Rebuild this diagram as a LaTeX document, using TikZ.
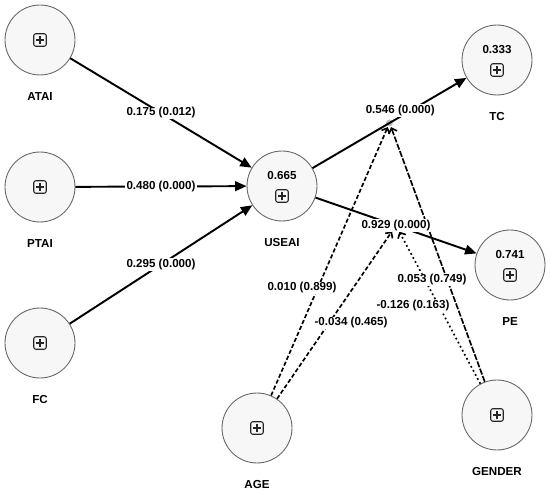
\documentclass[tikz,border=0pt]{standalone}
\usepackage{fontspec}
\setmainfont{Liberation Sans}
\usetikzlibrary{positioning,arrows.meta,calc}

\tikzset{
  latent/.style={circle,draw=black!60,fill=black!3,line width=0.5pt,
                 minimum size=1.4cm,inner sep=0pt},
  plusbox/.style={draw=black!85,rounded corners=1.2pt,minimum size=0.25cm,
                  inner sep=0pt,line width=0.6pt,
    path picture={\draw[line width=0.6pt]
      ([xshift=-0.08cm]path picture bounding box.center) --
      ([xshift=0.08cm]path picture bounding box.center)
      ([yshift=-0.08cm]path picture bounding box.center) --
      ([yshift=0.08cm]path picture bounding box.center);}},
  rsq/.style={font=\bfseries\fontsize{6.6}{7.5}\selectfont,inner sep=0pt},
  namelbl/.style={font=\bfseries\fontsize{6.6}{7.5}\selectfont,inner sep=0pt},
  elabel/.style={fill=white,inner sep=0.6pt,
                 font=\bfseries\fontsize{6.6}{7.5}\selectfont},
  relpath/.style={line width=1.1pt,-{Triangle[length=6.5pt,width=5.5pt]}},
  modpath/.style={line width=0.95pt,-{Straight Barb[length=2.5pt,width=5pt]}},
}

\begin{document}
\begin{tikzpicture}[x=0.02cm,y=-0.02cm]
  \useasboundingbox (0,0) rectangle (550,492);

  % constructs
  \node[latent] (atai) at (40,40) {};
  \node[latent] (ptai) at (40,187) {};
  \node[latent] (fc) at (40,343) {};
  \node[latent] (useai) at (282,186) {};
  \node[latent] (tc) at (497,60) {};
  \node[latent] (pe) at (510,265) {};
  \node[latent] (age) at (257,428) {};
  \node[latent] (gender) at (497,415) {};

  % names
  \node[namelbl,below=0.34cm of atai] (atai-n) {ATAI};
  \node[namelbl,below=0.34cm of ptai] (ptai-n) {PTAI};
  \node[namelbl,below=0.34cm of fc] (fc-n) {FC};
  \node[namelbl,below=0.34cm of useai] (useai-n) {USEAI};
  \node[namelbl,below=0.34cm of tc] (tc-n) {TC};
  \node[namelbl,below=0.34cm of pe] (pe-n) {PE};
  \node[namelbl,below=0.34cm of age] (age-n) {AGE};
  \node[namelbl,below=0.34cm of gender] (gender-n) {GENDER};

  % indicator boxes and R-square values
  \node[plusbox] (atai-b) at (atai) {};
  \node[plusbox] (ptai-b) at (ptai) {};
  \node[plusbox] (fc-b) at (fc) {};
  \node[plusbox] (age-b) at (age) {};
  \node[plusbox] (gender-b) at (gender) {};
  \node[plusbox] (useai-b) at ([yshift=-0.2cm]useai.center) {};
  \node[plusbox] (tc-b) at ([yshift=-0.2cm]tc.center) {};
  \node[plusbox] (pe-b) at ([yshift=-0.2cm]pe.center) {};
  \node[rsq] (useai-r) at ([yshift=0.2cm]useai.center) {0.665};
  \node[rsq] (tc-r) at ([yshift=0.2cm]tc.center) {0.333};
  \node[rsq] (pe-r) at ([yshift=0.2cm]pe.center) {0.741};

  % moderating effects
  \coordinate (tcmod) at ($(useai)!0.5!(tc)$);
  \coordinate (pemod) at ($(useai)!0.5!(pe)$);
  \fill[black!25] (tcmod) circle (0.07cm);
  \draw[modpath,shorten >=2.5pt,dash pattern=on 2.4pt off 1.3pt] (age) -- (tcmod);
  \draw[modpath,shorten >=4pt,dash pattern=on 2.4pt off 1.3pt] (age) -- (pemod);
  \draw[modpath,shorten >=2.5pt,dash pattern=on 3.5pt off 0.9pt] (gender) -- (tcmod);
  \draw[modpath,shorten >=4pt,dash pattern=on 1pt off 1.6pt] (gender) -- (pemod);
  \node[elabel] (age-tc-l) at (302,288) {0.010 (0.899)};
  \node[elabel] (age-pe-l) at (351,323) {-0.034 (0.465)};
  \node[elabel] (gender-tc-l) at (432,280) {0.053 (0.749)};
  \node[elabel] (gender-pe-l) at (413,306) {-0.126 (0.163)};

  % structural paths
  \draw[relpath] (atai) -- node[elabel] (atai-useai) {0.175 (0.012)} (useai);
  \draw[relpath] (ptai) -- node[elabel] (ptai-useai) {0.480 (0.000)} (useai);
  \draw[relpath] (fc) -- node[elabel] (fc-useai) {0.295 (0.000)} (useai);
  \draw[relpath] (useai) -- node[elabel,pos=0.57,yshift=0.13cm] (useai-tc) {0.546 (0.000)} (tc);
  \draw[relpath] (useai) -- node[elabel] (useai-pe) {0.929 (0.000)} (pe);
\end{tikzpicture}
\end{document}
